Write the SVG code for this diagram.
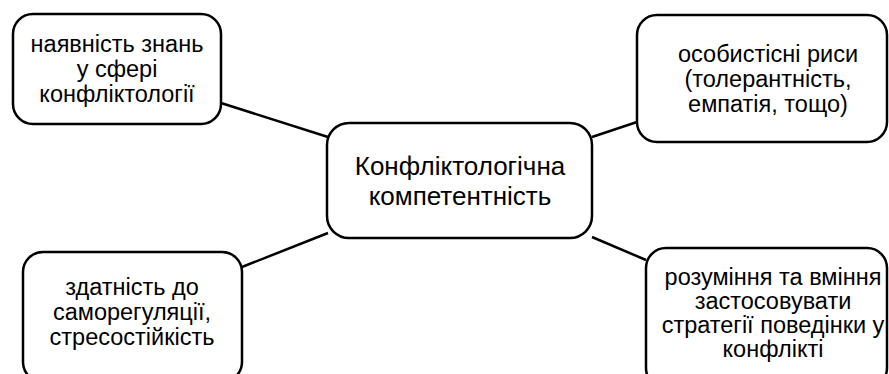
<svg xmlns="http://www.w3.org/2000/svg" width="889" height="374" viewBox="0 0 889 374">
<style>
.box{fill:#fff;stroke:#000;stroke-width:2.5}
.t{font-family:"Liberation Sans",Arial,sans-serif;font-size:23.5px;fill:#000;text-anchor:middle}
.c{font-size:26px}
.ln{stroke:#000;stroke-width:2.5;fill:none}
</style>
<rect width="889" height="374" fill="#fff"/>
<g id="connectors">
<line class="ln" x1="221" y1="103" x2="328" y2="137"/>
<line class="ln" x1="637" y1="122" x2="592" y2="137"/>
<line class="ln" x1="242" y1="267" x2="328" y2="233"/>
<line class="ln" x1="592" y1="237" x2="646" y2="260"/>
</g>
<g id="center">
<rect class="box" x="327" y="123" width="265" height="115" rx="22"/>
<text class="t c" x="460" y="175">Конфліктологічна</text>
<text class="t c" x="460" y="205">компетентність</text>
</g>
<g id="knowledge">
<rect class="box" x="13" y="14" width="208" height="110" rx="20"/>
<text class="t" x="117" y="52">наявність знань</text>
<text class="t" x="117" y="77">у сфері</text>
<text class="t" x="117" y="102">конфліктології</text>
</g>
<g id="traits">
<rect class="box" x="637" y="15" width="250" height="127" rx="20"/>
<text class="t" x="768" y="62">особистісні риси</text>
<text class="t" x="768" y="87">(толерантність,</text>
<text class="t" x="768" y="112">емпатія, тощо)</text>
</g>
<g id="selfreg">
<rect class="box" x="23" y="252" width="219" height="130" rx="20"/>
<text class="t" x="132" y="295">здатність до</text>
<text class="t" x="132" y="320">саморегуляції,</text>
<text class="t" x="132" y="345">стресостійкість</text>
</g>
<g id="strategies">
<rect class="box" x="646" y="248" width="241" height="140" rx="20"/>
<text class="t" x="773" y="285">розуміння та вміння</text>
<text class="t" x="773" y="309">застосовувати</text>
<text class="t" x="773" y="333">стратегії поведінки у</text>
<text class="t" x="773" y="357">конфлікті</text>
</g>
</svg>
